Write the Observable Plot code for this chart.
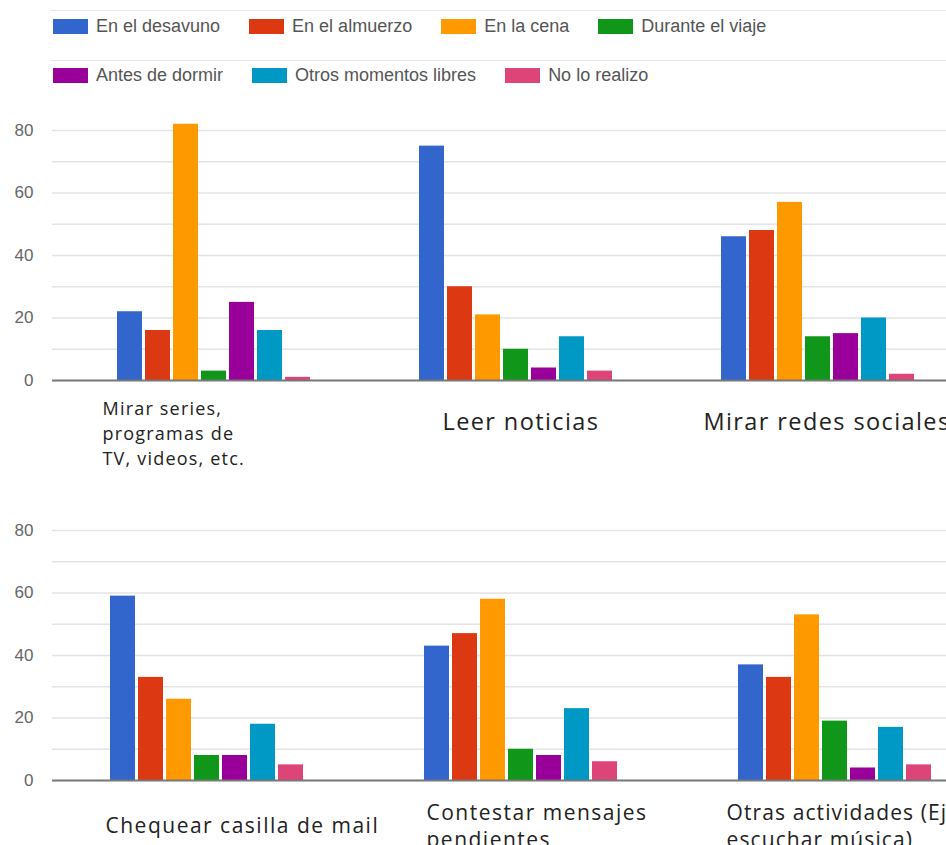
<!DOCTYPE html>
<html>
<head>
<meta charset="utf-8">
<script src="https://cdn.jsdelivr.net/npm/d3@7"></script>
<script src="https://cdn.jsdelivr.net/npm/@observablehq/plot@0.6"></script>
<style>
  html, body { margin: 0; padding: 0; background: #fff; overflow: hidden; width: 946px; height: 845px; }
  #legend { position: relative; height: 100px; width: 946px; font-family: "Liberation Sans", Arial, sans-serif; }
  .row { position: absolute; left: 53px; display: flex; align-items: center; gap: 29px; height: 16px; }
  .item { display: flex; align-items: center; gap: 8px; font-size: 18px; color: #555; white-space: nowrap; }
  .sw { width: 35px; height: 15px; display: inline-block; }
  .hr { position: absolute; left: 50px; right: 0; height: 1px; background: #e6e6e6; }
  .panel { width: 946px; overflow: hidden; }
  .panel svg { display: block; max-width: none !important; }
</style>
</head>
<body>
<div id="legend"></div>
<div id="top" class="panel"></div>
<div id="bottom" class="panel"></div>
<script>
// ---- data ----
const series = ["En el desavuno", "En el almuerzo", "En la cena", "Durante el viaje", "Antes de dormir", "Otros momentos libres", "No lo realizo"];
const colors = ["#3366cc", "#dc3912", "#ff9900", "#109618", "#990099", "#0099c6", "#dd4477"];

const groupsTop = ["Mirar series,\nprogramas de\nTV, videos, etc.", "Leer noticias", "Mirar redes sociales"];
const groupsBottom = ["Chequear casilla de mail", "Contestar mensajes\npendientes", "Otras actividades (Ej.\nescuchar música)"];

const mirarSeries   = [22, 16, 82, 3, 25, 16, 1];
const leerNoticias  = [75, 30, 21, 10, 4, 14, 3];
const redesSociales = [46, 48, 57, 14, 15, 20, 2];
const chequearMail  = [59, 33, 26, 8, 8, 18, 5];
const contestarMsj  = [43, 47, 58, 10, 8, 23, 6];
const otrasActiv    = [37, 33, 53, 19, 4, 17, 5];

const yTicks = [0, 20, 40, 60, 80];
const gridTicks = [10, 20, 30, 40, 50, 60, 70, 80];

// ---- legend ----
const legend = document.getElementById("legend");
[10, 60].forEach(t => { const l = document.createElement("div"); l.className = "hr"; l.style.top = t + "px"; legend.appendChild(l); });
[[0, 4, 19], [4, 7, 68]].forEach(([a, b, top]) => {
  const row = document.createElement("div");
  row.className = "row";
  row.style.top = (top - 1) + "px";
  series.slice(a, b).forEach((s, k) => {
    const it = document.createElement("div");
    it.className = "item";
    const sw = document.createElement("span");
    sw.className = "sw";
    sw.style.background = colors[a + k];
    const tx = document.createElement("span");
    tx.textContent = s;
    it.appendChild(sw); it.appendChild(tx);
    row.appendChild(it);
  });
  legend.appendChild(row);
});

// ---- panels ----
function panel(groups, values, o) {
  const data = groups.flatMap((g, i) => series.map((s, j) => ({group: g, series: s, value: values[i][j]})));
  const labelMarks = groups.map((g, i) => Plot.text([g], {
    fx: d => d, text: d => d,
    frameAnchor: "bottom-left", textAnchor: "start", lineAnchor: "top",
    dx: o.labels[i].dx, dy: o.labels[i].dy,
    fontSize: o.labels[i].fs, lineHeight: o.labels[i].lh,
    fill: "#222", fontFamily: "'Open Sans', sans-serif"
  }));
  const svg = Plot.plot({
    width: o.width, height: o.height,
    marginLeft: 52, marginRight: 0, marginTop: 30, marginBottom: o.mb,
    style: {fontFamily: "'Liberation Sans', Arial, sans-serif", color: "#666", background: "transparent", overflow: "visible", maxWidth: "none"},
    fx: {domain: groups, padding: 0, axis: null},
    x: {domain: series, paddingInner: 0.092, paddingOuter: o.po, align: o.align, axis: null},
    y: {domain: [0, 80], axis: null},
    color: {domain: series, range: colors},
    marks: [
      Plot.ruleY(gridTicks, {stroke: "#e4e4e4", strokeWidth: 1.5}),
      Plot.axisY({ticks: yTicks, tickSize: 0, tickPadding: 19, fontSize: 17, label: null}),
      Plot.barY(data, {fx: "group", x: "series", y: "value", fill: "series"}),
      Plot.ruleY([0], {stroke: "#777", strokeWidth: 2}),
      ...labelMarks
    ]
  });
  d3.select(svg).selectAll('g[aria-label="text"]').each(function(_, i) {
    d3.select(this).selectAll("text").style("letter-spacing", o.labels[i].ls + "px");
  });
  return svg;
}

document.getElementById("top").appendChild(panel(groupsTop, [mirarSeries, leerNoticias, redesSociales], {
  width: 958, height: 400, mb: 120, po: 1.92, align: 0.6,
  labels: [
    {dx: 50, dy: 17, fs: 18, lh: 1.39, ls: 1.2},
    {dx: 88, dy: 31, fs: 23.5, lh: 1.1, ls: 1.4},
    {dx: 47, dy: 31, fs: 23.5, lh: 1.1, ls: 1.4}
  ]
}));
document.getElementById("bottom").appendChild(panel(groupsBottom, [chequearMail, contestarMsj, otrasActiv], {
  width: 994, height: 345, mb: 65, po: 2.137, align: 0.483,
  labels: [
    {dx: 53, dy: 33, fs: 21, lh: 1.286, ls: 1.5},
    {dx: 60, dy: 20, fs: 21, lh: 1.286, ls: 1.5},
    {dx: 46, dy: 20, fs: 21, lh: 1.286, ls: 1.1}
  ]
}));
</script>
</body>
</html>
